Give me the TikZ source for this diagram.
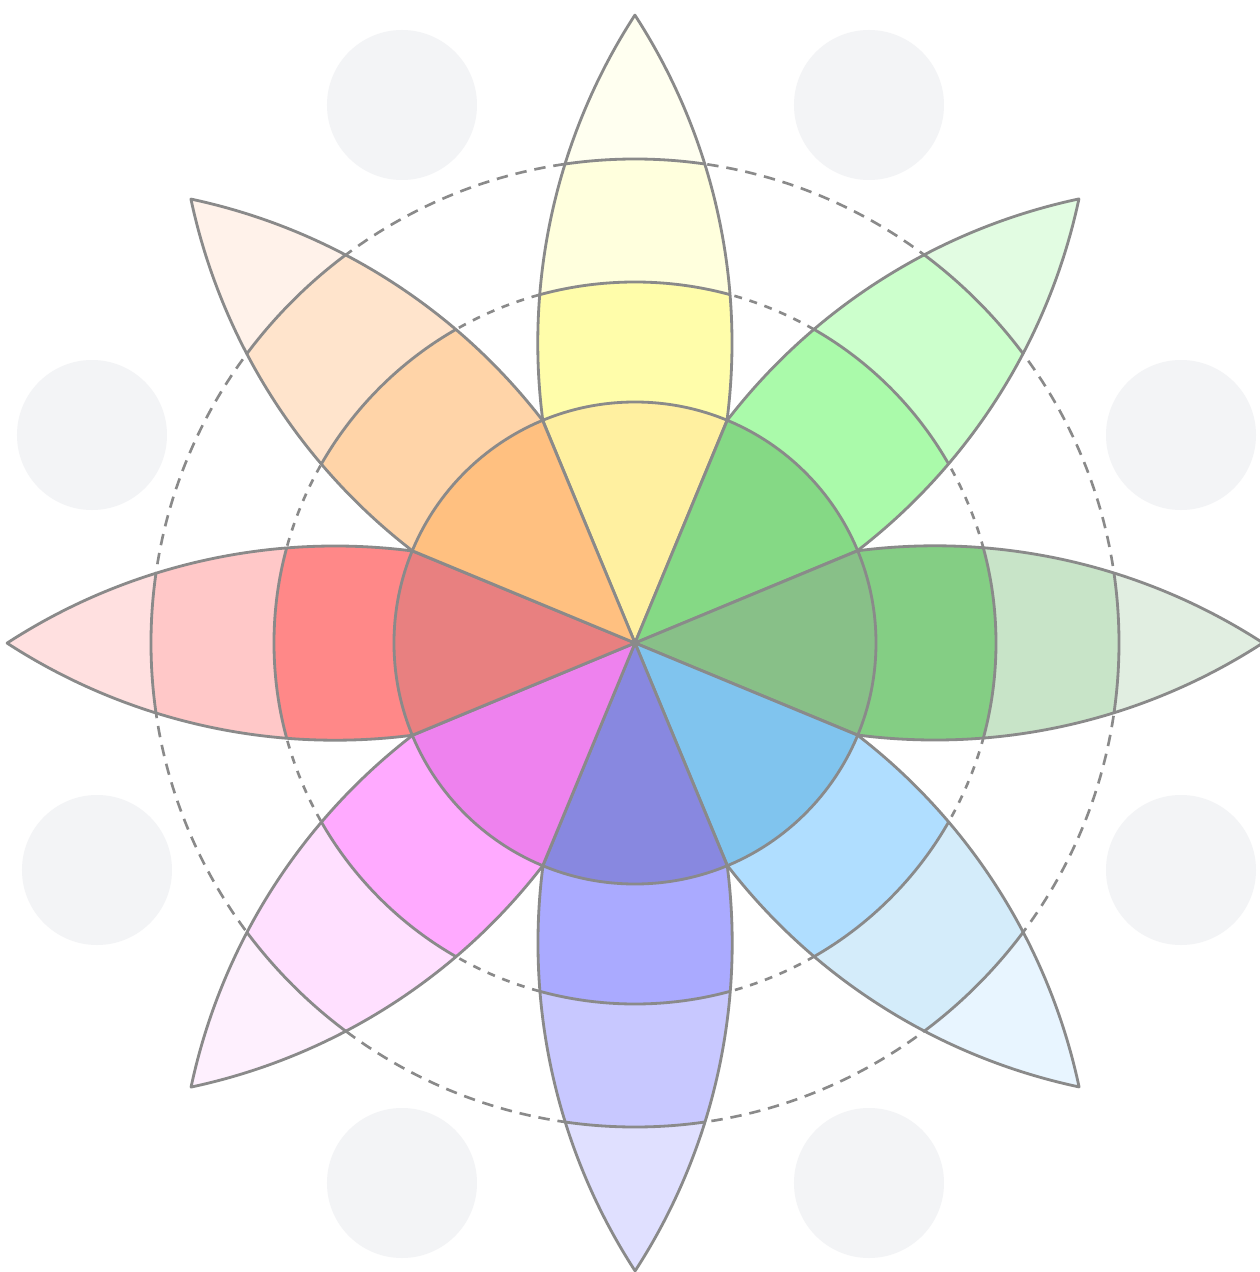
\documentclass[tikz,border=0pt]{standalone}
\usepackage{tikz}
\usetikzlibrary{calc}
\definecolor{edgegray}{HTML}{8A8A8A}
\definecolor{dotgray}{HTML}{F3F4F6}
% petal colours: 1 = inner wedge, 2..4 = bands outwards
\definecolor{yel1}{HTML}{FFF0A0}\definecolor{yel2}{HTML}{FFFDAA}\definecolor{yel3}{HTML}{FFFFDD}\definecolor{yel4}{HTML}{FFFFF0}
\definecolor{lgr1}{HTML}{85D985}\definecolor{lgr2}{HTML}{AAFAAA}\definecolor{lgr3}{HTML}{CCFFCC}\definecolor{lgr4}{HTML}{E2FCE2}
\definecolor{grn1}{HTML}{88C088}\definecolor{grn2}{HTML}{84CE84}\definecolor{grn3}{HTML}{C8E4C8}\definecolor{grn4}{HTML}{E1EEE1}
\definecolor{blu1}{HTML}{80C4EE}\definecolor{blu2}{HTML}{B0DEFF}\definecolor{blu3}{HTML}{D4ECFA}\definecolor{blu4}{HTML}{E8F5FF}
\definecolor{ind1}{HTML}{8888E0}\definecolor{ind2}{HTML}{AAAAFF}\definecolor{ind3}{HTML}{C8C8FF}\definecolor{ind4}{HTML}{E0E0FF}
\definecolor{mag1}{HTML}{EE82EE}\definecolor{mag2}{HTML}{FFAAFF}\definecolor{mag3}{HTML}{FFE0FF}\definecolor{mag4}{HTML}{FEF0FE}
\definecolor{red1}{HTML}{E88080}\definecolor{red2}{HTML}{FF8888}\definecolor{red3}{HTML}{FFC8C8}\definecolor{red4}{HTML}{FFE0E0}
\definecolor{ora1}{HTML}{FFC080}\definecolor{ora2}{HTML}{FFD4A8}\definecolor{ora3}{HTML}{FFE4CC}\definecolor{ora4}{HTML}{FFF2EA}
\tikzset{
  edge/.style={draw=edgegray, line width=1.6pt, line join=round},
  ringdash/.style={draw=edgegray, line width=1.5pt, dash pattern=on #1 off 4.5pt},
  ringdash/.default=6pt,
  labeldot/.style={fill=dotgray, draw=none}
}
% one petal along the x axis: wedge to the inner circle, then a lens to the tip
\newcommand{\petalpath}{(0,0) -- (22.5:241)
  arc[start angle=97.38, end angle=57, radius=602.1]
  arc[start angle=-57, end angle=-97.38, radius=602.1] -- cycle}
\begin{document}
\begin{tikzpicture}[x=0.02cm, y=0.02cm]
  \fill[white] (-635,-629) rectangle (625,643);
  \useasboundingbox (-635,-629) rectangle (625,643);
  % empty label places
  \foreach \px/\py in {-233/538, 234/538, -543/208, 546/208,
                       -538/-227, 546/-227, -233/-540, 234/-540}
    \fill[labeldot] (\px,\py) circle[radius=75];
  % guide rings
  \draw[ringdash=6.5pt] (0,0) circle[radius=484];
  \draw[ringdash=4.5pt] (0,0) circle[radius=361];
  % petals
  \foreach \ang/\hue in {90/yel, 45/lgr, 0/grn, -45/blu, -90/ind, -135/mag, 180/red, 135/ora} {
    \begin{scope}[rotate=\ang]
      \begin{scope}
        \clip \petalpath;
        \fill[\hue4] (0,0) circle[radius=640];
        \fill[\hue3] (0,0) circle[radius=484];
        \fill[\hue2] (0,0) circle[radius=361];
        \fill[\hue1] (0,0) circle[radius=241];
        \draw[edge] (0,0) circle[radius=484];
        \draw[edge] (0,0) circle[radius=361];
      \end{scope}
      \draw[edge] \petalpath;
    \end{scope}
  }
  \draw[edge] (0,0) circle[radius=241];
\end{tikzpicture}
\end{document}
